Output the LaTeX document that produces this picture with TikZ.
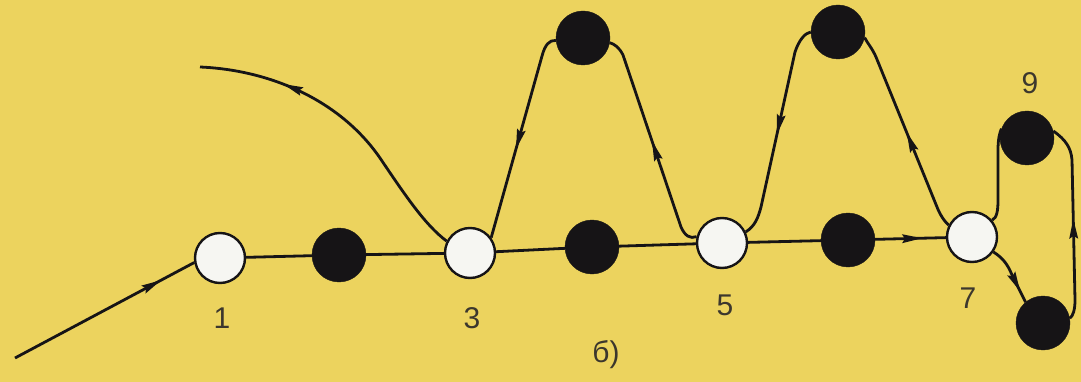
\documentclass[tikz,border=0pt]{standalone}
\usepackage{fontspec}
\setmainfont{Liberation Sans}
\usetikzlibrary{arrows.meta,decorations.markings}
\definecolor{bg}{RGB}{236,211,94}
\definecolor{ink}{RGB}{22,20,22}
\definecolor{lbl}{RGB}{60,55,45}
\definecolor{wfill}{RGB}{246,246,242}
\tikzset{
 wnode/.style={circle,draw=ink,line width=2.4pt,fill=wfill,minimum size=50pt,inner sep=0pt},
 bnode/.style={circle,fill=ink,draw=ink,minimum size=54pt,inner sep=0pt},
 link/.style={draw=ink,line width=2.8pt},
 marrow/.style={postaction={decorate},decoration={markings,mark=at position #1 with {\fill[ink] (3pt,0pt) -- (-17pt,4.5pt) -- (-14pt,0pt) -- (-17pt,-4.5pt) -- cycle;}}},
 lab/.style={text=lbl,font=\fontsize{30}{36}\selectfont,inner sep=0pt}
}
\begin{document}
\begin{tikzpicture}[x=1pt,y=-1pt]
\fill[bg] (0,0) rectangle (1081,382);
\useasboundingbox (0,0) rectangle (1081,382);
% nodes
\node[wnode] (n1) at (220,258) {};
\node[bnode] (b1) at (339,255) {};
\node[wnode] (n3) at (470,253) {};
\node[bnode] (t1) at (583,38) {};
\node[bnode] (b2) at (592,247) {};
\node[wnode] (n5) at (722,243) {};
\node[bnode] (t2) at (838,32) {};
\node[bnode] (b3) at (848,240) {};
\node[wnode] (n7) at (972,237) {};
\node[bnode] (n9) at (1027,138) {};
\node[bnode] (b4) at (1043,323) {};
\coordinate (in) at (15,358);
\coordinate (out) at (200,67);
% labels
\node[lab] (l1) at (222,318) {1};
\node[lab] (l3) at (472,318) {3};
\node[lab] (l5) at (725,305) {5};
\node[lab] (l7) at (968,298) {7};
\node[lab] (l9) at (1030,83) {9};
\node[lab] (lb) at (606,355) {б)};
% main line
\draw[link] (n1) -- (b1) -- (n3) -- (b2) -- (n5) -- (b3);
\draw[link,marrow=0.62] (b3) -- (n7);
% incoming
\draw[link,marrow=0.8] (in) -- (n1.190);
% leaving curve
\draw[link,marrow=0.72] (n3.153) .. controls (425,225) and (405,195) .. (380,158)
  .. controls (340,100) and (270,70) .. (out);
% loops
\draw[link,marrow=0.55] (t1.185) .. controls (549,40) and (545,45) .. (542,56) -- (n3.36);
\draw[link,marrow=0.49] (n5.166) .. controls (690,239) and (685,236) .. (681,227) -- (623,55)
  .. controls (619,47) and (614,44) .. (t1.-10);
\draw[link,marrow=0.5] (t2.180) .. controls (805,33) and (799,40) .. (795,52) -- (761,207)
  .. controls (758,218) and (755,226) .. (n5.25);
\draw[link,marrow=0.48] (n7.153) .. controls (945,222) and (940,215) .. (937,207) -- (876,57)
  .. controls (872,48) and (868,44) .. (t2.-12);
\draw[link] (n7.40) .. controls (997,218) and (998,210) .. (998,200) -- (998,150)
  .. controls (998,138) and (1000,132) .. (n9.160);
\draw[link,marrow=0.5] (b4.10) .. controls (1073,316) and (1075,310) .. (1075,300) -- (1072,160)
  .. controls (1071,148) and (1066,140) .. (n9.15);
\draw[link,marrow=0.75] (n7.-35) .. controls (1003,258) and (1008,265) .. (1012,275) -- (b4.130);
\end{tikzpicture}
\end{document}
